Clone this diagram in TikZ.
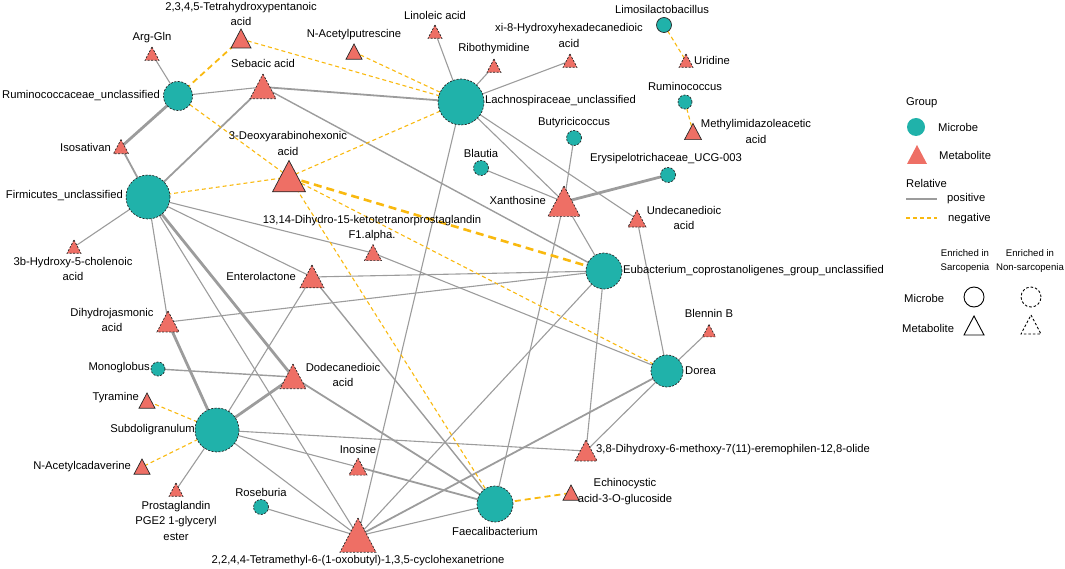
\documentclass[tikz,border=0pt]{standalone}
\usepackage{fontspec}
\setmainfont{Liberation Sans}
\usetikzlibrary{calc}
\definecolor{mic}{HTML}{20B2AA}
\definecolor{met}{HTML}{EE6F65}
\definecolor{posc}{HTML}{9C9C9C}
\definecolor{negc}{HTML}{F9B90F}
\tikzset{
 pedge/.style={draw=posc, line width=1.1pt},
 pedgem/.style={draw=posc, line width=1.8pt},
 pedgek/.style={draw=posc, line width=2.8pt},
 nedge/.style={draw=negc, line width=1.1pt, dash pattern=on 4pt off 3pt},
 nedgem/.style={draw=negc, line width=1.8pt, dash pattern=on 6pt off 4pt},
 nedgek/.style={draw=negc, line width=2.6pt, dash pattern=on 8pt off 5pt},
 nbord/.style={draw=black!85, line width=0.7pt, dash pattern=on 2pt off 1.5pt},
 sbord/.style={draw=black!85, line width=0.7pt},
 lab/.style={inner sep=0pt, font=\fontsize{11.25}{15.5}\selectfont, align=center},
 slab/.style={inner sep=0pt, font=\fontsize{9.6}{13.5}\selectfont, align=center},
}
\newcommand\drawmic[3]{\filldraw[fill=mic,#3] (#1) circle[radius=#2pt];}
\newcommand\drawmet[3]{\filldraw[fill=met,#3,line join=miter] ($(#1)+(0,-0.5*#2)$) -- ($(#1)+(0.5*#2,0.45*#2)$) -- ($(#1)+(-0.5*#2,0.45*#2)$) -- cycle;}
\begin{document}
\begin{tikzpicture}[x=1pt,y=-1pt]
\useasboundingbox (0,0) rectangle (1065,569);
% ---------- microbe centres
\coordinate (R1) at (178,96);
\coordinate (L) at (461,102);
\coordinate (Firm) at (148,197);
\coordinate (Limo) at (664,25);
\coordinate (Rumc) at (685,102);
\coordinate (Buty) at (574,138);
\coordinate (Blau) at (481,168);
\coordinate (Ery) at (668,175);
\coordinate (Eub) at (604,271);
\coordinate (Dorea) at (667,371);
\coordinate (Mono) at (158,369);
\coordinate (S) at (217,430);
\coordinate (Rose) at (261,507);
\coordinate (Faec) at (495,504);
% ---------- metabolite centres
\coordinate (T2345) at (241,39);
\coordinate (Arg) at (152,54);
\coordinate (NAP) at (354,52);
\coordinate (Lin) at (435,32);
\coordinate (Ribo) at (494,66);
\coordinate (Xi8) at (570,61);
\coordinate (Uri) at (686,61);
\coordinate (MIA) at (693,132);
\coordinate (Seb) at (263,87);
\coordinate (Isos) at (121,147);
\coordinate (D3) at (289,177);
\coordinate (B3) at (74,247);
\coordinate (D13) at (373,253);
\coordinate (Ent) at (312,277);
\coordinate (Xan) at (564,202);
\coordinate (Und) at (637,219);
\coordinate (Dhj) at (168,322);
\coordinate (Blen) at (709,331);
\coordinate (Dod) at (293,377);
\coordinate (Tyr) at (147,401);
\coordinate (NAC) at (142,467);
\coordinate (Prost) at (176,490);
\coordinate (Ino) at (358,467);
\coordinate (Tet) at (358,536);
\coordinate (D38) at (586,451);
\coordinate (Echi) at (571,493);
% ---------- positive edges
\draw[pedge] (R1) -- (Arg);
\draw[pedge] (R1) -- (Seb);
\draw[pedgek] (R1) -- (Isos);
\draw[pedgem] (Firm) -- (Isos);
\draw[pedgem] (Firm) -- (Seb);
\draw[pedgem] (Seb) -- (L);
\draw[pedge,line width=1.4pt] (Seb) -- (Eub);
\draw[pedge] (L) -- (Lin);
\draw[pedge] (L) -- (Ribo);
\draw[pedge] (L) -- (Xi8);
\draw[pedge] (L) -- (Xan);
\draw[pedge] (L) -- (Und);
\draw[pedge] (L) -- (Tet);
\draw[pedge] (Firm) -- (B3);
\draw[pedge] (Firm) -- (D13);
\draw[pedge] (Firm) -- (Ent);
\draw[pedge] (Firm) -- (Dhj);
\draw[pedge] (Firm) -- (Tet);
\draw[pedgek] (Firm) -- (Dod);
\draw[pedge] (Blau) -- (Xan);
\draw[pedge] (Buty) -- (Xan);
\draw[pedgek] (Ery) -- (Xan);
\draw[pedge] (Xan) -- (Eub);
\draw[pedge] (Xan) -- (Faec);
\draw[pedge] (Und) -- (Dorea);
\draw[pedge] (D13) -- (Dorea);
\draw[pedge] (Ent) -- (Eub);
\draw[pedge] (Dhj) -- (Eub);
\draw[pedge] (Eub) -- (Tet);
\draw[pedge] (Eub) -- (D38);
\draw[pedge] (Blen) -- (Dorea);
\draw[pedgem] (Tet) -- (Dorea);
\draw[pedge] (D38) -- (Dorea);
\draw[pedgek] (Dhj) -- (S);
\draw[pedge,line width=1.4pt] (Mono) -- (Dod);
\draw[pedgek] (S) -- (Dod);
\draw[pedge] (S) -- (Ent);
\draw[pedge] (S) -- (Prost);
\draw[pedge] (S) -- (D38);
\draw[pedge] (S) -- (Ino);
\draw[pedgem] (Ino) -- (Faec);
\draw[pedge] (S) -- (Tet);
\draw[pedge,line width=1.4pt] (Ent) -- (Faec);
\draw[pedgem] (Dod) -- (Faec);
\draw[pedge] (Rose) -- (Tet);
\draw[pedge] (Tet) -- (Faec);
% ---------- negative edges
\draw[nedgem] (R1) -- (T2345);
\draw[nedge] (T2345) -- (L);
\draw[nedge] (NAP) -- (L);
\draw[nedge] (D3) -- (R1);
\draw[nedge] (D3) -- (L);
\draw[nedge] (D3) -- (Firm);
\draw[nedgek] (D3) -- (Eub);
\draw[nedge] (D3) -- (Dorea);
\draw[nedge] (D3) -- (Faec);
\draw[nedge] (Limo) -- (Uri);
\draw[nedge] (Rumc) -- (MIA);
\draw[nedge] (S) -- (Tyr);
\draw[nedge] (S) -- (NAC);
\draw[nedgem] (Faec) -- (Echi);
% ---------- microbes
\drawmic{R1}{14.5}{nbord}
\drawmic{L}{23}{nbord}
\drawmic{Firm}{22}{nbord}
\drawmic{Limo}{7.5}{sbord}
\drawmic{Rumc}{7}{nbord}
\drawmic{Buty}{7.5}{nbord}
\drawmic{Blau}{7.5}{nbord}
\drawmic{Ery}{7.5}{nbord}
\drawmic{Eub}{18}{nbord}
\drawmic{Dorea}{16}{nbord}
\drawmic{Mono}{7}{nbord}
\drawmic{S}{22}{nbord}
\drawmic{Rose}{7.5}{nbord}
\drawmic{Faec}{18}{nbord}
% ---------- metabolites
\drawmet{T2345}{20}{sbord}
\drawmet{Arg}{14}{nbord}
\drawmet{NAP}{16}{sbord}
\drawmet{Lin}{14}{nbord}
\drawmet{Ribo}{14}{nbord}
\drawmet{Xi8}{14}{nbord}
\drawmet{Uri}{14}{nbord}
\drawmet{MIA}{17}{sbord}
\drawmet{Seb}{26}{nbord}
\drawmet{Isos}{15}{nbord}
\drawmet{D3}{33}{sbord}
\drawmet{B3}{14}{nbord}
\drawmet{D13}{17}{nbord}
\drawmet{Ent}{24}{nbord}
\drawmet{Xan}{32}{nbord}
\drawmet{Und}{18}{nbord}
\drawmet{Dhj}{22}{nbord}
\drawmet{Blen}{13}{nbord}
\drawmet{Dod}{26}{nbord}
\drawmet{Tyr}{16}{sbord}
\drawmet{NAC}{16}{sbord}
\drawmet{Prost}{14}{nbord}
\drawmet{Ino}{18}{nbord}
\drawmet{Tet}{36}{nbord}
\drawmet{D38}{22}{nbord}
\drawmet{Echi}{16}{sbord}
% ---------- labels
\node[lab] (lT2345) at (241,14) {2,3,4,5-Tetrahydroxypentanoic\\acid};
\node[lab] (lArg) at (152,38) {Arg-Gln};
\node[lab] (lNAP) at (354,35) {N-Acetylputrescine};
\node[lab] (lLin) at (435,15) {Linoleic acid};
\node[lab] (lRibo) at (494,49) {Ribothymidine};
\node[lab] (lXi8) at (569,35.5) {xi-8-Hydroxyhexadecanedioic\\acid};
\node[lab] (lLimo) at (662,9) {Limosilactobacillus};
\node[lab,anchor=west] (lUri) at (694,60) {Uridine};
\node[lab] (lRumc) at (685,86) {Ruminococcus};
\node[lab] (lMIA) at (756,131.5) {Methylimidazoleacetic\\acid};
\node[lab] (lSeb) at (263,63) {Sebacic acid};
\node[lab,anchor=east] (lR1) at (160,96) {Ruminococcaceae\_unclassified};
\node[lab,anchor=west] (lL) at (485,101) {Lachnospiraceae\_unclassified};
\node[lab,anchor=east] (lIsos) at (111,147) {Isosativan};
\node[lab] (lD3) at (288,143.5) {3-Deoxyarabinohexonic\\acid};
\node[lab] (lButy) at (574,123) {Butyricicoccus};
\node[lab] (lBlau) at (481,153) {Blautia};
\node[lab] (lEry) at (666,159) {Erysipelotrichaceae\_UCG-003};
\node[lab,anchor=east] (lFirm) at (123,196) {Firmicutes\_unclassified};
\node[lab,anchor=east] (lXan) at (546,200) {Xanthosine};
\node[lab] (lUnd) at (684,218) {Undecanedioic\\acid};
\node[lab] (lB3) at (73,269) {3b-Hydroxy-5-cholenoic\\acid};
\node[lab] (lD13) at (372,228) {13,14-Dihydro-15-ketotetranorprostaglandin\\F1.alpha.};
\node[lab,anchor=east] (lEnt) at (296,276) {Enterolactone};
\node[lab,anchor=west] (lEub) at (623,271) {Eubacterium\_coprostanoligenes\_group\_unclassified};
\node[lab] (lDhj) at (112,320) {Dihydrojasmonic\\acid};
\node[lab] (lBlen) at (709,313) {Blennin B};
\node[lab,anchor=west] (lDorea) at (685,371) {Dorea};
\node[lab,anchor=east] (lMono) at (150,368) {Monoglobus};
\node[lab] (lDod) at (343,375) {Dodecanedioic\\acid};
\node[lab,anchor=east] (lTyr) at (139,398) {Tyramine};
\node[lab,anchor=east] (lS) at (195,430) {Subdoligranulum};
\node[lab,anchor=west] (lD38) at (596,450) {3,8-Dihydroxy-6-methoxy-7(11)-eremophilen-12,8-olide};
\node[lab] (lIno) at (358,449) {Inosine};
\node[lab,anchor=east] (lNAC) at (131,467) {N-Acetylcadaverine};
\node[lab] (lEchi) at (625,491.5) {Echinocystic\\acid-3-O-glucoside};
\node[lab] (lRose) at (261,492) {Roseburia};
\node[lab] (lProst) at (176,520.5) {Prostaglandin\\PGE2 1-glyceryl\\ester};
\node[lab] (lFaec) at (495,531) {Faecalibacterium};
\node[lab] (lTet) at (358,561) {2,2,4,4-Tetramethyl-6-(1-oxobutyl)-1,3,5-cyclohexanetrione};
% ---------- legend
\node[lab,anchor=west] (gGroup) at (906,103) {Group};
\coordinate (gMic) at (916,127);
\fill[mic] (gMic) circle[radius=9pt];
\node[lab,anchor=west] (gMicT) at (938,127) {Microbe};
\coordinate (gMet) at (917,155);
\fill[met] ($(gMet)+(0,-10)$) -- ($(gMet)+(10,9)$) -- ($(gMet)+(-10,9)$) -- cycle;
\node[lab,anchor=west] (gMetT) at (939,155) {Metabolite};
\node[lab,anchor=west] (gRel) at (906,183) {Relative};
\coordinate (gp1) at (906,199); \coordinate (gp2) at (937,199);
\draw[pedge] (gp1) -- (gp2);
\node[lab,anchor=west] (gPos) at (947,199) {positive};
\coordinate (gn1) at (906,218); \coordinate (gn2) at (937,218);
\draw[nedge] (gn1) -- (gn2);
\node[lab,anchor=west] (gNeg) at (948,219) {negative};
\node[slab] (gSar) at (965,261) {Enriched in\\Sarcopenia};
\node[slab] (gNon) at (1030,261) {Enriched in\\Non-sarcopenia};
\node[lab,anchor=west] (gMic2) at (904,298) {Microbe};
\node[lab,anchor=west] (gMet2) at (902,328) {Metabolite};
\coordinate (gc1) at (974,297); \coordinate (gc2) at (1031,297);
\draw[black, line width=0.9pt] (gc1) circle[radius=10pt];
\draw[black, line width=0.9pt, dash pattern=on 2.5pt off 2pt] (gc2) circle[radius=10pt];
\coordinate (gt1) at (974,326); \coordinate (gt2) at (1031,325);
\draw[black, line width=0.9pt] ($(gt1)+(0,-10)$) -- ($(gt1)+(10,9)$) -- ($(gt1)+(-10,9)$) -- cycle;
\draw[black, line width=0.9pt, dash pattern=on 2.5pt off 2pt] ($(gt2)+(0,-10)$) -- ($(gt2)+(10,9)$) -- ($(gt2)+(-10,9)$) -- cycle;
\end{tikzpicture}
\end{document}
